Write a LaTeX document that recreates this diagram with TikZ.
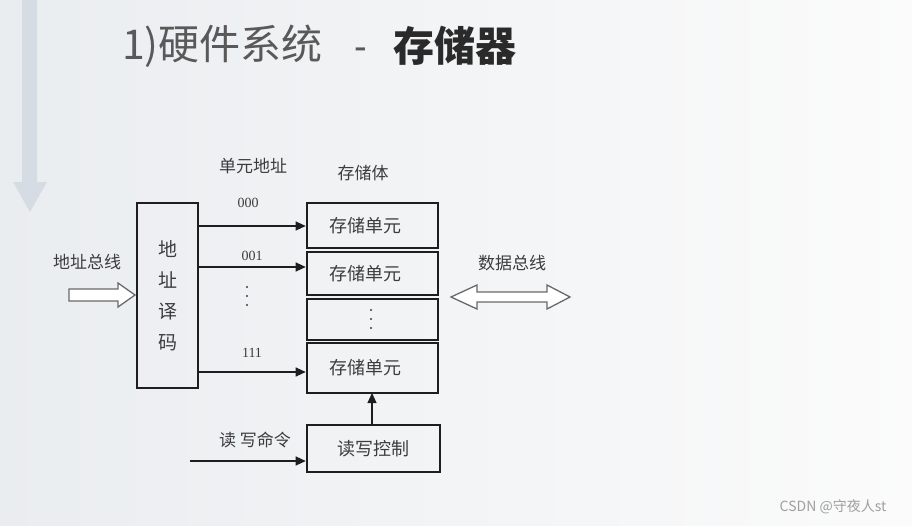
\documentclass[tikz,border=0pt]{standalone}
\usepackage{fontspec}
\setmainfont{Noto Sans CJK SC}
\newfontfamily\numfont{Liberation Serif}
\newfontfamily\dashfont{Liberation Sans}
\usetikzlibrary{arrows.meta,positioning,calc}
\definecolor{bgleft}{RGB}{234,237,240}
\definecolor{bgright}{RGB}{251,251,251}
\definecolor{bararrow}{RGB}{214,220,228}
\definecolor{txt}{RGB}{60,60,60}
\definecolor{ink}{RGB}{30,30,30}
\definecolor{hollow}{RGB}{105,105,105}

\begin{document}
\begin{tikzpicture}[x=1pt,y=-1pt,
    box/.style={draw=ink,line width=2.6pt,inner sep=0pt,text=txt,
      font=\fontsize{18}{20}\selectfont},
    lbl/.style={text=txt,inner sep=0pt,font=\fontsize{17}{19}\selectfont},
    num/.style={text=txt,inner sep=0pt,font=\numfont\fontsize{14}{16}\selectfont},
    wire/.style={draw=ink,line width=1.1pt,-{Triangle[length=10pt,width=9pt]}},
    busarrow/.style={draw=hollow,line width=1.3pt,fill=white,line join=miter},
    dot/.style={fill=txt}]
  \useasboundingbox (0,0) rectangle (912,525);
  \shade[left color=bgleft,right color=bgright] (0,0) rectangle (912,525);
  % guide arrow at the left edge
  \fill[bararrow] (22,0) -- (37,0) -- (37,182) -- (47,182) -- (30,212)
    -- (13,182) -- (22,182) -- cycle;
  % title
  \node[anchor=west,inner sep=0pt,text=txt!85,font=\fontsize{41}{44}\selectfont]
    (title) at (122,46) {1)硬件系统};
  \node[anchor=base,inner sep=0pt,text=txt!85,font=\dashfont\fontsize{38}{44}\selectfont]
    (dash) at (title.base -| 361,0) {-};
  \node[anchor=west,inner sep=0pt,text=txt!70!black,font=\fontsize{41}{44}\selectfont\bfseries]
    (titleb) at (393,46) {存储器};

  % decoder
  \node[box,minimum width=61pt,minimum height=185pt,align=center,
    font=\fontsize{19}{31}\selectfont] (dec) at (167.5,295.5) {地\\址\\译\\码};
  % memory cells
  \node[box,minimum width=131pt,minimum height=45pt] (c1) at (372.5,225.5) {存储单元\kern14pt};
  \node[box,minimum width=131pt,minimum height=43pt] (c2) at (372.5,273.5) {存储单元\kern14pt};
  \node[box,minimum width=131pt,minimum height=41pt] (c3) at (372.5,319.5) {};
  \node[box,minimum width=131pt,minimum height=50pt] (c4) at (372.5,368) {存储单元\kern14pt};
  \foreach \y in {310,319,328} \fill[dot] (371,\y) circle (1.2pt);
  % read/write control
  \node[box,minimum width=133pt,minimum height=47pt] (ctrl) at (373.5,448.5) {读写控制};

  % labels
  \node[lbl] (cellhead) at (253,166) {单元地址};
  \node[lbl] (memhead) at (363,173) {存储体};
  \node[lbl] (abus) at (87,262) {地址总线};
  \node[lbl] (dbus) at (512,263) {数据总线};
  \node[lbl] (cmd) at (255,440) {读\ 写命令};
  \node[num] (a0) at (248,203) {000};
  \node[num] (a1) at (252,256) {001};
  \node[num] (a7) at (252,353) {111};
  \foreach \y in {287,296,305} \fill[dot] (247,\y) circle (1.2pt);

  % address lines
  \draw[wire] (dec.east |- 0,226) -- (c1.west |- 0,226);
  \draw[wire] (dec.east |- 0,267) -- (c2.west |- 0,267);
  \draw[wire] (dec.east |- 0,372) -- (c4.west |- 0,372);
  % control
  \coordinate (cmdin) at (190,461);
  \draw[wire] (cmdin) -- (ctrl.west |- cmdin);
  \draw[wire] (372,425) -- (372,393);

  % bus arrows
  \draw[busarrow] (69,289) -- (118,289) -- (118,283) -- (135,295) -- (118,307)
    -- (118,301) -- (69,301) -- cycle;
  \draw[busarrow] (451,297) -- (477,285) -- (477,292) -- (547,292) -- (547,285)
    -- (570,297) -- (547,309) -- (547,302) -- (477,302) -- (477,309) -- cycle;

  \node[text=gray!75,inner sep=0pt,font=\fontsize{14}{16}\selectfont] (mark) at (833,507) {CSDN @守夜人st};
\end{tikzpicture}
\end{document}
